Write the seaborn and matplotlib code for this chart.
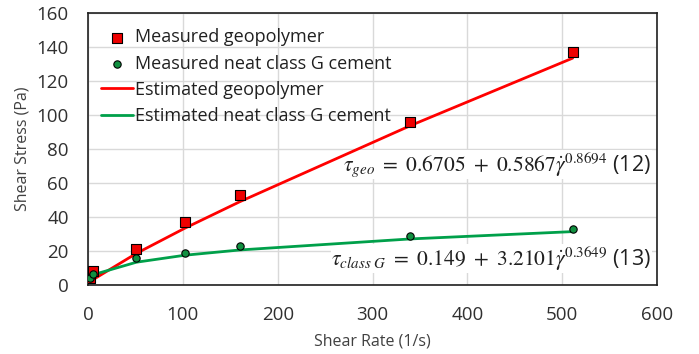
import matplotlib
matplotlib.use("Agg")
import matplotlib.pyplot as plt
import seaborn as sns
import numpy as np

# Data
shear_rate = [1.7, 5.1, 51, 102, 160, 340, 511]
geo_measured = [4, 8, 21, 37, 53, 96, 137]
cement_measured = [4, 6.5, 16, 19, 23, 29, 33]
geo_estimated = [1.6, 3.1, 18.6, 33.4, 49.0, 93.8, 133.5]
cement_estimated = [4.1, 6.0, 13.4, 17.5, 20.6, 27.1, 31.4]

x_ticks = [0, 100, 200, 300, 400, 500, 600]
y_ticks = [0, 20, 40, 60, 80, 100, 120, 140, 160]

sns.set_style("white")
plt.rcParams['font.family'] = ['Open Sans', 'DejaVu Sans']
plt.rcParams['mathtext.fontset'] = 'stix'

fig = plt.figure(figsize=(6.99, 3.54), dpi=100)
ax = fig.add_axes([0.126, 0.195, 0.814, 0.768])

red = '#FF0000'
green = '#00A04A'

sns.scatterplot(x=shear_rate, y=geo_measured, marker='s', color='#EE0000', edgecolor='black',
                linewidth=0.8, s=55, ax=ax, label='Measured geopolymer', zorder=4)
sns.scatterplot(x=shear_rate, y=cement_measured, marker='o', color='#109040', edgecolor='black',
                linewidth=0.8, s=28, ax=ax, label='Measured neat class G cement', zorder=4)
sns.lineplot(x=shear_rate, y=geo_estimated, color=red, linewidth=2.0, ax=ax,
             label='Estimated geopolymer', zorder=3)
sns.lineplot(x=shear_rate, y=cement_estimated, color=green, linewidth=2.0, ax=ax,
             label='Estimated neat class G cement', zorder=3)

ax.set_xlim(0, 600)
ax.set_ylim(0, 160)
ax.set_xticks(x_ticks)
ax.set_yticks(y_ticks)
ax.grid(True, color='#d9d9d9', linewidth=1.0)
ax.set_axisbelow(True)
for sp in ax.spines.values():
    sp.set_color('#202020')
    sp.set_linewidth(1.2)
ax.tick_params(axis='y', length=0, labelsize=13.5, colors='#303030', pad=14)
ax.tick_params(axis='x', length=0, labelsize=13.5, colors='#303030', pad=15)
ax.set_xlabel('Shear Rate (1/s)', fontsize=11.5, color='#404040', labelpad=7)
ax.set_ylabel('Shear Stress (Pa)', fontsize=11.5, color='#404040', labelpad=4)

leg = ax.legend(loc='upper left', frameon=False, fontsize=13, handlelength=1.8,
                handletextpad=0.1, labelspacing=0.45, borderaxespad=0.3,
                bbox_to_anchor=(0.0, 0.99))
for t in leg.get_texts():
    t.set_color('#202020')

bbox = dict(facecolor='white', edgecolor='none', pad=0.3)
ax.text(594, 71, r'$\tau_{geo}\ =\ 0.6705\ +\ 0.5867\dot{\gamma}^{0.8694}$ (12)', ha='right', va='center',
        fontsize=15.5, color='#202020', bbox=bbox, zorder=2.5)
ax.text(594, 15.5, r'$\tau_{class\ G}\ =\ 0.149\ +\ 3.2101\dot{\gamma}^{0.3649}$ (13)', ha='right', va='center',
        fontsize=15.5, color='#202020', bbox=bbox, zorder=2.5)

fig.savefig('out.png', dpi=100)
